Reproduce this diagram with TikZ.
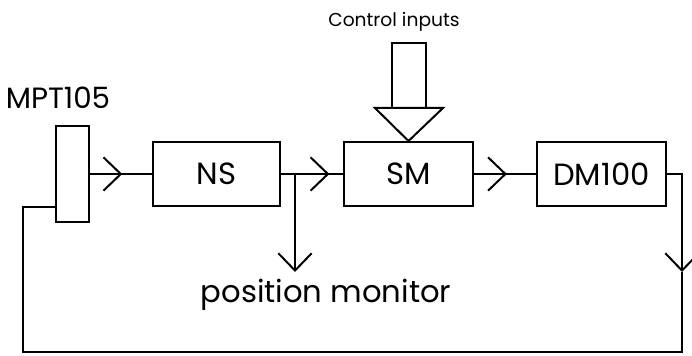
\documentclass[tikz,border=0pt]{standalone}
\usepackage{fontspec}
\setmainfont{Poppins}
\usetikzlibrary{arrows.meta,decorations.markings}

\tikzset{every picture/.style={line width=1.5pt}}

\begin{document}
\begin{tikzpicture}[x=0.75pt,y=0.75pt,yscale=-1,xscale=1,
  blockbox/.style={draw, minimum width=96.75pt, minimum height=48pt, inner sep=0pt, font=\fontsize{23}{27}\selectfont},
  barb/.style={-{Straight Barb[length=13pt,width=25pt]}},
  midbarb/.style={postaction={decorate}, decoration={markings, mark=at position #1 with {\arrow{Straight Barb[length=13pt,width=25pt]}}}}
]
\useasboundingbox (0,0) rectangle (692,356);

%Blocks
\node[draw, minimum width=24.75pt, minimum height=72pt, inner sep=0pt] (mpt) at (72.5,174) {};
\node[blockbox, minimum width=95.25pt] (ns) at (216.5,174) {NS};
\node[blockbox] (sm) at (408.5,174) {SM};
\node[blockbox] (dm) at (601.5,174) {DM100};

% Text Node
\node[font=\fontsize{22}{26}\selectfont] (mptlabel) at (58,98) {MPT105};
% Text Node
\node[font=\fontsize{14}{17}\selectfont] (ctrllabel) at (394,22) {Control inputs};
% Text Node
\node[font=\fontsize{23}{27}\selectfont] (monlabel) at (326,295) {position monitor};

%Control input arrow
\draw (392,43) rectangle (426,108);
\draw (375,108) -- (443,108) -- (sm.north) -- cycle;

% Connection
\draw[midbarb=0.52] (mpt.east) -- (ns.west);
% Connection
\draw[midbarb=0.78] (ns.east) -- (sm.west);
% Connection
\draw[midbarb=0.53] (sm.east) -- (dm.west);

\coordinate (branch) at (295,174);
\coordinate (montip) at (295,272);
\draw[barb] (branch) -- (montip);

%Feedback loop
\coordinate (fbtip) at (682,272);
\coordinate (fbcorner) at (23,352);
\draw[barb] (dm.east) -| (fbtip);
\draw (fbtip) |- (fbcorner) |- ([yshift=-12pt]mpt.south west);

\end{tikzpicture}
\end{document}
